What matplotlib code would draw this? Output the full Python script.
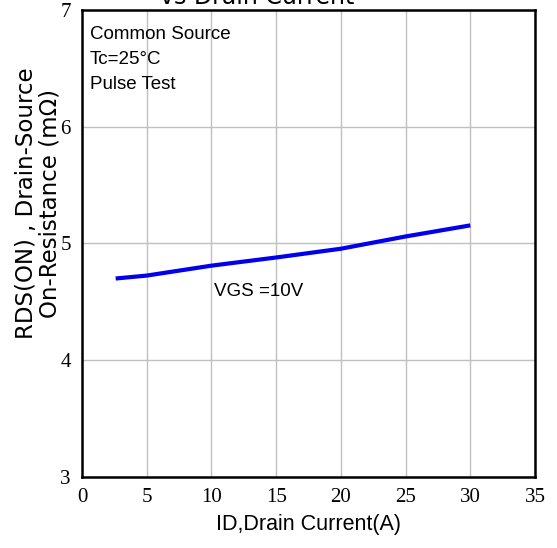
import matplotlib.pyplot as plt
import numpy as np

# data
drain_current = [2.6, 5, 10, 15, 20, 25, 30]
rds_on = [4.70, 4.725, 4.81, 4.88, 4.955, 5.06, 5.155]

xticks = [0, 5, 10, 15, 20, 25, 30, 35]
yticks = [3, 4, 5, 6, 7]

fig = plt.figure(figsize=(5.57, 5.48), dpi=100)
ax = fig.add_axes([0.1472, 0.1296, 0.8133, 0.8522])

ax.plot(drain_current, rds_on, color='#0000ee', lw=3, solid_capstyle='butt')

ax.set_xlim(0, 35)
ax.set_ylim(3, 7)
ax.set_xticks(xticks)
ax.set_yticks(yticks)
ax.grid(True, color='#c0c0c0', lw=1)
ax.tick_params(length=0, pad=8)
for lab in ax.get_xticklabels() + ax.get_yticklabels():
    lab.set_family('Liberation Serif')
    lab.set_fontsize(15)
for s in ax.spines.values():
    s.set_linewidth(1.8)

ax.set_xlabel('ID,Drain Current(A)', fontsize=15.5, family='Liberation Sans', labelpad=5)
fig.text(38 / 557, 1 - 203 / 548, 'RDS(ON) , Drain-Source\nOn-Resistance (m\u03a9)',
         fontsize=16.5, family='DejaVu Sans', rotation=90, ha='center', va='center',
         multialignment='center', linespacing=1.05)

ax.text(0.62, 6.86, 'Common Source\nTc=25\u00b0C\nPulse Test', fontsize=13.5,
        family='Liberation Sans', va='top', linespacing=1.6)
ax.text(10.2, 4.585, 'VGS =10V', fontsize=13.5, family='Liberation Sans', va='center')

fig.text(257 / 557, 1 - 4 / 548, 'vs Drain Current', fontsize=17, ha='center', va='baseline',
         family='DejaVu Sans')

fig.savefig('out.png', dpi=100)
